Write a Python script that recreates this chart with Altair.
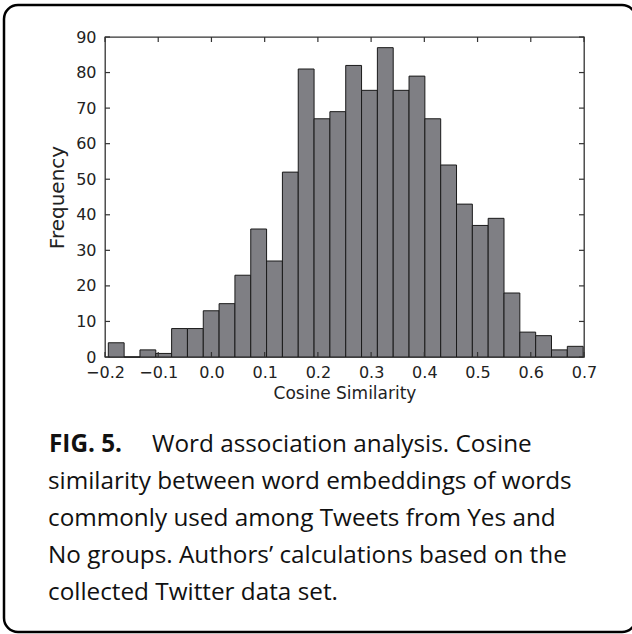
import altair as alt
import pandas as pd

# Histogram of cosine similarities: 30 equal-width bins
bin_first_edge = -0.1938
bin_width = 0.02974
counts = [4, 0, 2, 1, 8, 8, 13, 15, 23, 36,
          27, 52, 81, 67, 69, 82, 75, 87, 75, 79,
          67, 54, 43, 37, 39, 18, 7, 6, 2, 3]

x_ticks = [-0.2, -0.1, 0.0, 0.1, 0.2, 0.3, 0.4, 0.5, 0.6, 0.7]
y_ticks = [0, 10, 20, 30, 40, 50, 60, 70, 80, 90]

caption_lead = "FIG. 5."
caption_lines = [
    "Word association analysis. Cosine",
    "similarity between word embeddings of words",
    "commonly used among Tweets from Yes and",
    "No groups. Authors\u2019 calculations based on the",
    "collected Twitter data set.",
]

W, H = 479, 320
TICK = 5
AXIS_COLOR = "#333333"
TICK_FONT = "DejaVu Sans"
CAPTION_FONT = "Open Sans"
CAPTION_SIZE = 24.3

bins = pd.DataFrame({
    "start": [bin_first_edge + i * bin_width for i in range(len(counts))],
    "end": [bin_first_edge + (i + 1) * bin_width for i in range(len(counts))],
    "count": counts,
})
xt = pd.DataFrame({"v": x_ticks})
yt = pd.DataFrame({"v": y_ticks})

x_scale = alt.Scale(domain=[-0.2, 0.7], nice=False, zero=False)
y_scale = alt.Scale(domain=[0, 90], nice=False)

# one axis definition per channel, shared by every layer
x_axis = alt.Axis(
    values=x_ticks, format=".1f", title="Cosine Similarity",
    domain=False, ticks=False, tickSize=0, grid=False,
    labelPadding=7, labelFont=TICK_FONT, labelFontSize=16,
    labelColor="#222222", titleFont=TICK_FONT, titleFontSize=17,
    titleFontWeight="normal", titleColor="#222222", titlePadding=5,
    labelFlush=False, labelOverlap=False)
y_axis = alt.Axis(
    values=y_ticks, format="d", title="Frequency",
    domain=False, ticks=False, tickSize=0, grid=False,
    labelPadding=9, labelFont=TICK_FONT, labelFontSize=16,
    labelColor="#222222", titleFont=TICK_FONT, titleFontSize=20,
    titleFontWeight="normal", titleColor="#222222", titlePadding=8,
    labelFlush=False, labelOverlap=False)

bars = alt.Chart(bins).mark_rect(
    fill="#7f7f84", stroke="#1a1a1a", strokeWidth=1
).encode(
    x=alt.X("start:Q", scale=x_scale, axis=x_axis),
    x2="end:Q",
    y=alt.Y("count:Q", scale=y_scale, axis=y_axis),
    y2=alt.datum(0),
)

# inward-pointing ticks on all four sides of the frame
tick_style = dict(color=AXIS_COLOR, strokeWidth=1.2)
x_bottom = alt.Chart(xt).mark_rule(**tick_style).encode(
    x=alt.X("v:Q", scale=x_scale, axis=x_axis),
    y=alt.value(H), y2=alt.value(H - TICK))
x_top = alt.Chart(xt).mark_rule(**tick_style).encode(
    x=alt.X("v:Q", scale=x_scale, axis=x_axis),
    y=alt.value(0), y2=alt.value(TICK))
y_left = alt.Chart(yt).mark_rule(**tick_style).encode(
    y=alt.Y("v:Q", scale=y_scale, axis=y_axis),
    x=alt.value(0), x2=alt.value(TICK))
y_right = alt.Chart(yt).mark_rule(**tick_style).encode(
    y=alt.Y("v:Q", scale=y_scale, axis=y_axis),
    x=alt.value(W), x2=alt.value(W - TICK))

# rounded border around the figure and its caption
border = alt.Chart(pd.DataFrame({"k": [0]})).mark_rect(
    fill=None, stroke="#000000", strokeWidth=2.5, cornerRadius=14
).encode(
    x=alt.value(-101), x2=alt.value(531), y=alt.value(-32), y2=alt.value(595)
)

lead = alt.Chart(pd.DataFrame({"t": [caption_lead]})).mark_text(
    font=CAPTION_FONT, fontSize=CAPTION_SIZE, fontWeight="bold", align="left",
    baseline="alphabetic", color="#111111"
).encode(text="t:N", x=alt.value(-56), y=alt.value(415))

line_x = [47, -57, -57, -57, -57]
line_y = [415, 452, 489, 526, 563]
caption = alt.Chart(pd.DataFrame({
    "t": caption_lines, "px": line_x, "py": line_y,
})).mark_text(
    font=CAPTION_FONT, fontSize=CAPTION_SIZE, align="left", baseline="alphabetic",
    color="#111111"
).encode(
    text="t:N",
    x=alt.X("px:Q", scale=None),
    y=alt.Y("py:Q", scale=None),
)

chart = alt.layer(
    bars, x_bottom, x_top, y_left, y_right, border, lead, caption
).properties(
    width=W, height=H,
    autosize=alt.AutoSizeParams(type="none"),
    padding={"left": 105, "top": 37, "right": 48, "bottom": 277},
    background="white",
).configure_view(
    stroke=AXIS_COLOR, strokeWidth=1.3
)

chart.save("out.html", embed_options={"renderer": "svg", "actions": False})
